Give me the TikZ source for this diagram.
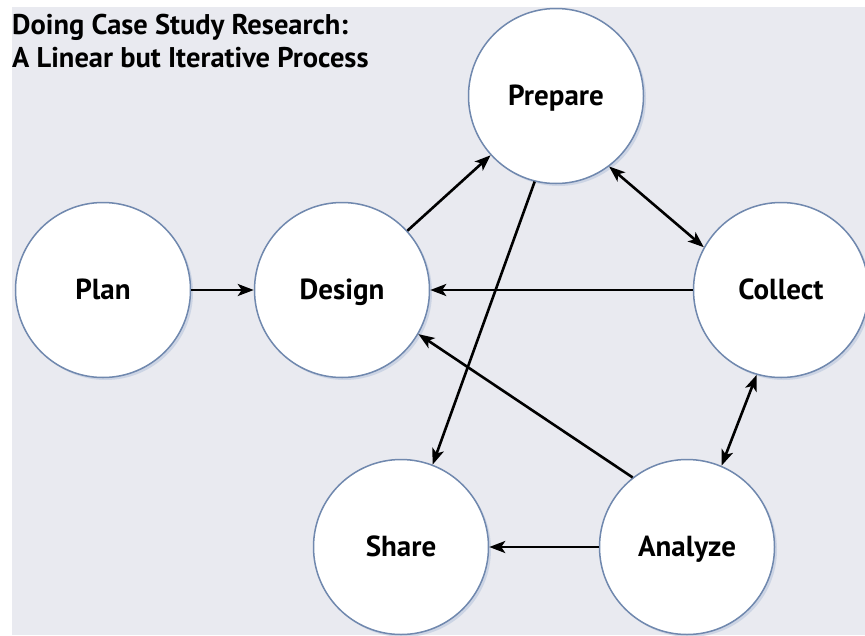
\documentclass[tikz,border=0pt]{standalone}
\usepackage{fontspec}
\setmainfont{PT Sans}
\usetikzlibrary{arrows.meta,shadows}
\definecolor{bgpanel}{HTML}{E9EAF0}
\definecolor{ringblue}{HTML}{7088AE}
\definecolor{ringshade}{HTML}{B9C6DD}
\tikzset{>/.tip={Stealth[length=16pt,width=12pt,inset=4pt]},
  stage/.style={circle, draw=ringblue, line width=1.5pt, fill=white,
    minimum size=175pt, inner sep=0pt, text height=19pt, text depth=0pt,
    font=\fontsize{29}{32}\selectfont\bfseries,
    drop shadow={shadow xshift=2.5pt, shadow yshift=-2.5pt, fill=ringshade, opacity=.6}},
  flow/.style={->, line width=2.6pt},
  heading/.style={anchor=base west, inner sep=0pt, font=\fontsize{28.5}{32}\selectfont\bfseries}}

\begin{document}
\begin{tikzpicture}[x=1pt,y=-1pt]
\useasboundingbox (0,0) rectangle (865,635);
\fill[bgpanel] (12,7) rectangle (865,635);
\node[heading] (title1) at (12,34) {Doing Case Study Research:};
\node[heading] (title2) at (12,67) {A Linear but Iterative Process};
\node[stage] (plan)    at (103,290) {Plan};
\node[stage] (design)  at (342,290) {Design};
\node[stage] (prepare) at (556,96)  {Prepare};
\node[stage] (collect) at (781,290) {Collect};
\node[stage] (share)   at (401,547) {Share};
\node[stage] (analyze) at (687,547) {Analyze};
\draw[flow] (plan) to (design);
\draw[flow] (design) to (prepare);
\draw[flow] (collect) to (design);
\draw[flow,<->] (prepare.-53) to (collect.151);
\draw[flow] (prepare.-104) to (share.69);
\draw[flow] (analyze.128) to (design.-30);
\draw[flow,<->] (collect.-106) to (analyze.67);
\draw[flow] (analyze) to (share);
\end{tikzpicture}
\end{document}
